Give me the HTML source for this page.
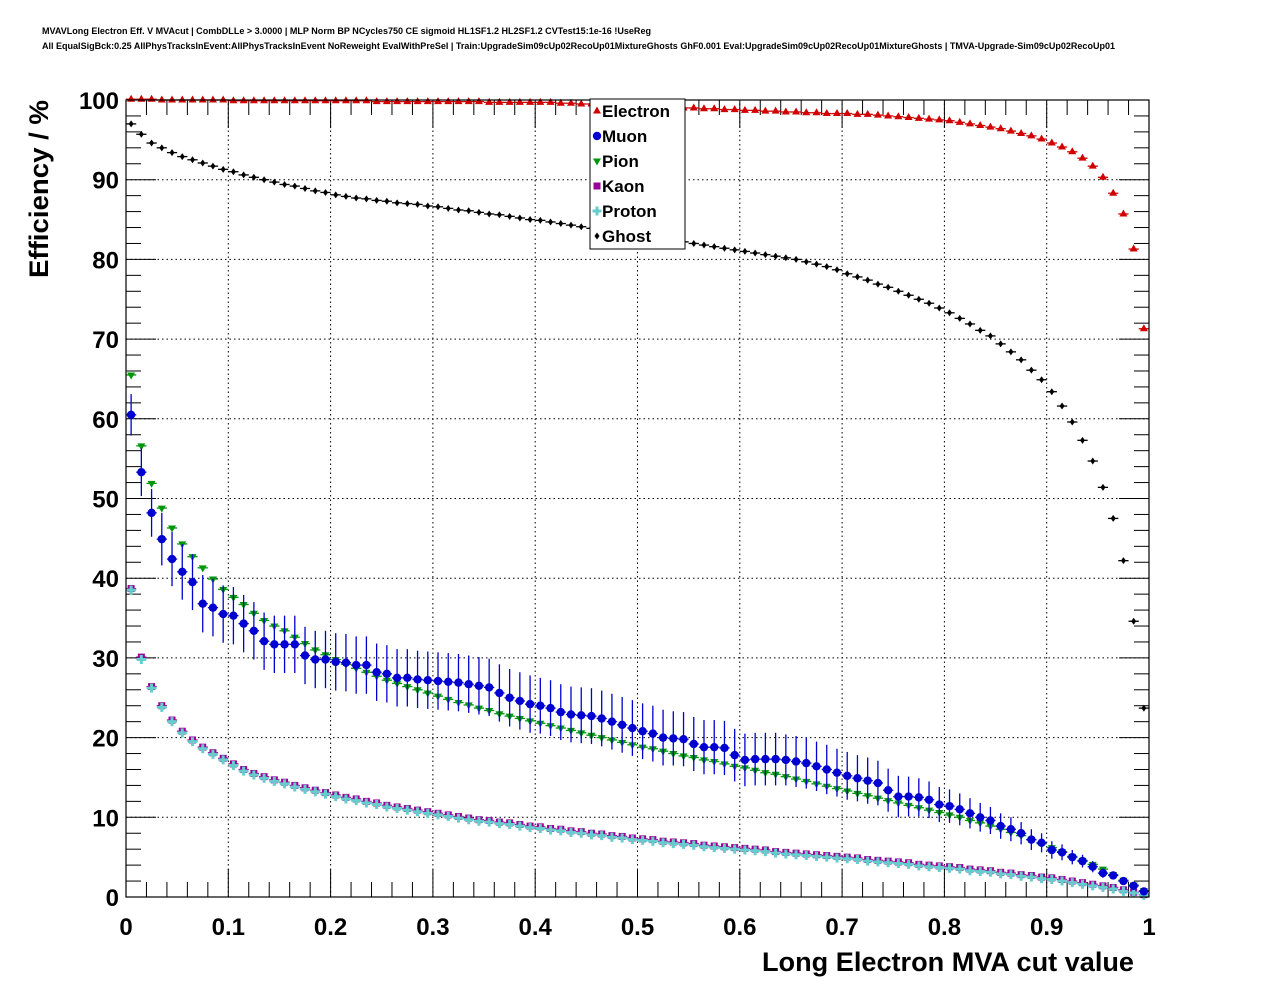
<!DOCTYPE html>
<html><head><meta charset="utf-8">
<style>
html,body{margin:0;padding:0;background:#fff;}
svg{display:block;font-family:"Liberation Sans",Arial,sans-serif;}
</style></head>
<body>
<svg id="chart" width="1276" height="996" viewBox="0 0 1276 996" xmlns="http://www.w3.org/2000/svg">
<text x="42" y="34" font-size="9" font-weight="bold" textLength="609" lengthAdjust="spacingAndGlyphs">MVAVLong Electron Eff. V MVAcut | CombDLLe &gt; 3.0000 | MLP Norm BP NCycles750 CE sigmoid HL1SF1.2 HL2SF1.2 CVTest15:1e-16 !UseReg</text>
<text x="42" y="49" font-size="9" font-weight="bold" textLength="1073" lengthAdjust="spacingAndGlyphs">All EqualSigBck:0.25 AllPhysTracksInEvent:AllPhysTracksInEvent NoReweight EvalWithPreSel | Train:UpgradeSim09cUp02RecoUp01MixtureGhosts GhF0.001 Eval:UpgradeSim09cUp02RecoUp01MixtureGhosts | TMVA-Upgrade-Sim09cUp02RecoUp01</text>
<g id="grid"></g>
<g id="axes"></g>
<g id="marks"></g>
<rect x="126" y="100" width="1023" height="797" fill="none" stroke="#000" stroke-width="1.2"/>
<text transform="translate(48,189) rotate(-90)" text-anchor="middle" font-size="27" font-weight="bold" textLength="178" lengthAdjust="spacingAndGlyphs">Efficiency / %</text>
<text x="762" y="971" font-size="27" font-weight="bold" textLength="372" lengthAdjust="spacingAndGlyphs">Long Electron MVA cut value</text>
<g id="legend">
<rect x="590" y="99" width="95" height="150" fill="#fff" stroke="#000" stroke-width="1"/>
</g>
</svg>
<script>
const electron=[100.1,100.1,100.1,100.0,100.0,100.0,100.0,100.0,100.0,100.0,
99.9,99.9,99.9,99.9,99.9,99.9,99.9,99.9,99.9,99.9,
99.9,99.9,99.9,99.9,99.8,99.8,99.8,99.8,99.8,99.8,
99.8,99.8,99.8,99.8,99.8,99.7,99.7,99.7,99.7,99.7,
99.7,99.7,99.6,99.6,99.5,99.5,99.4,99.4,99.3,99.3,
99.2,99.2,99.1,99.1,99.0,99.0,98.9,98.9,98.8,98.8,
98.7,98.7,98.6,98.6,98.5,98.5,98.4,98.4,98.3,98.3,
98.3,98.2,98.2,98.1,98.0,97.9,97.8,97.7,97.6,97.5,
97.4,97.2,97.0,96.8,96.6,96.4,96.1,95.8,95.5,95.1,
94.6,94.1,93.5,92.7,91.7,90.3,88.3,85.7,81.3,71.3];
const muon=[60.5,53.3,48.2,44.9,42.4,40.8,39.5,36.8,36.3,35.5,
35.3,34.3,33.4,32.1,31.7,31.7,31.7,30.3,29.8,29.8,
29.5,29.4,29.1,29.1,28.2,28.0,27.5,27.5,27.3,27.2,
27.1,27.0,26.9,26.7,26.5,26.3,25.6,25.0,24.6,24.2,
24.0,23.7,23.2,22.9,22.8,22.7,22.4,22.0,21.6,21.2,
20.8,20.5,20.0,19.9,19.8,19.2,18.8,18.8,18.7,17.8,
17.2,17.3,17.3,17.3,17.2,17.0,16.8,16.4,16.0,15.6,
15.2,14.9,14.6,14.3,13.4,12.6,12.6,12.5,12.2,11.6,
11.4,11.0,10.5,10.0,9.6,8.9,8.5,8.0,7.2,6.8,
5.9,5.6,5.0,4.5,3.8,3.0,2.7,2.0,1.4,0.7];
const muonErr=[2.6,3.0,3.0,3.3,3.4,3.5,3.5,3.6,3.6,3.6,
3.6,3.6,3.6,3.6,3.6,3.6,3.6,3.6,3.6,3.6,
3.6,3.6,3.6,3.6,3.6,3.6,3.6,3.6,3.6,3.6,
3.6,3.6,3.6,3.6,3.6,3.6,3.6,3.6,3.6,3.6,
3.5,3.5,3.5,3.5,3.5,3.5,3.5,3.5,3.5,3.5,
3.5,3.5,3.5,3.4,3.4,3.4,3.4,3.4,3.4,3.3,
3.3,3.3,3.3,3.3,3.2,3.2,3.2,3.1,3.1,3.0,
3.0,2.9,2.9,2.8,2.7,2.6,2.5,2.4,2.3,2.2,
2.1,2.0,1.9,1.8,1.7,1.6,1.5,1.4,1.3,1.2,
1.1,1.0,0.9,0.8,0.7,0.6,0.5,0.4,0.3,0.2];
const pion=[65.5,56.6,51.9,48.8,46.3,44.3,42.7,41.3,39.9,38.6,
37.6,36.7,35.6,34.7,34.0,33.4,32.6,31.8,31.0,30.4,
29.8,29.2,28.7,28.2,27.7,27.2,26.8,26.4,26.0,25.6,
25.2,24.8,24.4,24.1,23.7,23.4,23.0,22.7,22.4,22.1,
21.8,21.5,21.2,20.9,20.6,20.3,20.0,19.7,19.4,19.1,
18.8,18.6,18.3,18.0,17.7,17.5,17.2,17.0,16.7,16.4,
16.2,15.9,15.6,15.4,15.1,14.8,14.5,14.2,13.9,13.6,
13.3,13.0,12.7,12.4,12.1,11.8,11.5,11.2,10.9,10.6,
10.3,10.0,9.6,9.3,8.9,8.5,8.1,7.7,7.2,6.7,
6.2,5.7,5.1,4.6,4.1,3.5,2.8,2.1,1.5,0.8];
const kaon=[38.7,30.1,26.4,24.0,22.2,20.8,19.7,18.8,18.1,17.4,
16.7,16.0,15.5,15.1,14.7,14.4,14.0,13.7,13.4,13.1,
12.8,12.5,12.3,12.0,11.8,11.5,11.3,11.1,10.9,10.7,
10.5,10.3,10.1,9.9,9.7,9.6,9.4,9.3,9.1,8.9,
8.8,8.6,8.5,8.3,8.2,8.0,7.9,7.7,7.6,7.4,
7.3,7.2,7.0,6.9,6.8,6.7,6.5,6.4,6.3,6.2,
6.1,6.0,5.9,5.7,5.6,5.5,5.4,5.3,5.2,5.1,
5.0,4.9,4.7,4.6,4.5,4.4,4.3,4.1,4.0,3.9,
3.8,3.7,3.5,3.4,3.3,3.1,3.0,2.8,2.7,2.5,
2.4,2.2,2.0,1.8,1.6,1.4,1.2,0.9,0.6,0.3];
const proton=[38.5,29.8,26.2,23.8,22.0,20.6,19.5,18.6,17.9,17.2,
16.5,15.8,15.3,14.9,14.5,14.2,13.8,13.5,13.2,12.9,
12.6,12.3,12.1,11.8,11.6,11.3,11.1,10.9,10.7,10.5,
10.3,10.1,9.9,9.7,9.5,9.4,9.2,9.1,8.9,8.7,
8.6,8.4,8.3,8.1,8.0,7.8,7.7,7.5,7.4,7.2,
7.1,7.0,6.8,6.7,6.6,6.5,6.3,6.2,6.1,6.0,
5.9,5.8,5.7,5.5,5.4,5.3,5.2,5.1,5.0,4.9,
4.8,4.7,4.5,4.4,4.3,4.2,4.1,3.9,3.8,3.7,
3.6,3.5,3.3,3.2,3.1,2.9,2.8,2.6,2.5,2.3,
2.2,2.0,1.8,1.6,1.4,1.2,1.0,0.7,0.5,0.2];
const ghost=[97.0,95.7,94.6,94.0,93.4,92.9,92.5,92.1,91.7,91.3,
91.0,90.6,90.3,90.0,89.7,89.4,89.2,88.9,88.6,88.4,
88.1,87.9,87.7,87.6,87.4,87.3,87.1,87.0,86.9,86.7,
86.6,86.4,86.2,86.1,85.9,85.7,85.6,85.4,85.2,85.0,
84.9,84.7,84.5,84.3,84.1,83.9,83.7,83.5,83.3,83.1,
83.0,82.8,82.6,82.4,82.2,82.0,81.8,81.6,81.4,81.2,
81.0,80.8,80.6,80.4,80.2,80.0,79.7,79.4,79.1,78.7,
78.2,77.8,77.4,76.9,76.5,76.0,75.5,75.0,74.5,73.9,
73.3,72.6,71.9,71.1,70.4,69.4,68.4,67.4,66.1,64.9,
63.4,61.6,59.6,57.3,54.7,51.4,47.5,42.2,34.6,23.7];
const xTickLabels=["0","0.1","0.2","0.3","0.4","0.5","0.6","0.7","0.8","0.9","1"];
const yTickLabels=["0","10","20","30","40","50","60","70","80","90","100"];
const legendLabels=["Electron","Muon","Pion","Kaon","Proton","Ghost"];

const NS="http://www.w3.org/2000/svg";
const X0=126,X1=1149,Y0=897,Y1=100;
const xs=v=>X0+v*(X1-X0);
const ys=v=>Y0-v/100*(Y0-Y1);
function mk(tag,attrs,parent){const e=document.createElementNS(NS,tag);for(const k in attrs)e.setAttribute(k,attrs[k]);parent.appendChild(e);return e;}
const grid=document.getElementById('grid'),axes=document.getElementById('axes'),marks=document.getElementById('marks'),legend=document.getElementById('legend');

for(let i=0;i<=50;i++){
  const v=i/50,x=xs(v),major=i%5===0,len=major?28:15;
  let t=mk('line',{x1:x,x2:x,y1:Y0,y2:Y0-len,stroke:'#000','stroke-width':1},axes);
  
  
  t=mk('line',{x1:x,x2:x,y1:Y1,y2:Y1+len,stroke:'#000','stroke-width':1},axes);
  
  
}
for(let i=0;i<=50;i++){
  const v=i*2,y=ys(v),major=i%5===0,len=major?30:15;
  let t=mk('line',{x1:X0,x2:X0+len,y1:y,y2:y,stroke:'#000','stroke-width':1},axes);
  
  
  t=mk('line',{x1:X1,x2:X1-len,y1:y,y2:y,stroke:'#000','stroke-width':1},axes);
  
  
}
xTickLabels.forEach((s,i)=>{
  const v=parseFloat(s);
  if(i>0&&i<xTickLabels.length-1){
    const g=mk('line',{x1:xs(v),x2:xs(v),y1:Y0,y2:Y1,stroke:'#000','stroke-width':1,'stroke-dasharray':'1.5,3'},grid);
    
    
  }
  const t=mk('text',{x:xs(v),y:935,'text-anchor':'middle','font-size':24,'font-weight':'bold'},axes);
  t.textContent=s;
  
  
});
yTickLabels.forEach((s,i)=>{
  const v=parseFloat(s);
  if(i>0&&i<yTickLabels.length-1){
    const g=mk('line',{x1:X0,x2:X1,y1:ys(v),y2:ys(v),stroke:'#000','stroke-width':1,'stroke-dasharray':'1.5,3'},grid);
    
    
  }
  const t=mk('text',{x:119,y:ys(v)+9,'text-anchor':'end','font-size':24,'font-weight':'bold'},axes);
  t.textContent=s;
  
  
});

function marker(type,cx,cy,color,parent){
  let e;
  if(type==='tri') e=mk('polygon',{points:`${cx},${cy-4.5} ${cx-4},${cy+2.5} ${cx+4},${cy+2.5}`,fill:color},parent);
  else if(type==='tridown') e=mk('polygon',{points:`${cx},${cy+4.5} ${cx-4},${cy-2.5} ${cx+4},${cy-2.5}`,fill:color},parent);
  else if(type==='circle') e=mk('circle',{cx:cx,cy:cy,r:4.2,fill:color},parent);
  else if(type==='square') e=mk('rect',{x:cx-3.5,y:cy-3.5,width:7,height:7,fill:color},parent);
  else if(type==='cross') e=mk('path',{d:`M${cx-1.5},${cy-4.5}h3v3h3v3h-3v3h-3v-3h-3v-3h3z`,fill:color},parent);
  else e=mk('polygon',{points:`${cx},${cy-3.5} ${cx+2.5},${cy} ${cx},${cy+3.5} ${cx-2.5},${cy}`,fill:color},parent);
  return e;
}
const seriesDefs=[
  {name:'electron',vals:electron,type:'tri',color:'#d00000'},
  {name:'muon',vals:muon,type:'circle',color:'#0000d0',err:muonErr},
  {name:'pion',vals:pion,type:'tridown',color:'#00960a'},
  {name:'kaon',vals:kaon,type:'square',color:'#990099'},
  {name:'proton',vals:proton,type:'cross',color:'#66cccc'},
  {name:'ghost',vals:ghost,type:'diamond',color:'#000'}
];
const order=[2,3,4,1,0,5];
order.forEach(si=>{
  const s=seriesDefs[si];
  const g=mk('g',{},marks);
  
  
  s.vals.forEach((v,i)=>{
    const xc=(i+0.5)/100,cx=xs(xc),cy=ys(v);
    const h=mk('line',{x1:xs(i/100),x2:xs((i+1)/100),y1:cy,y2:cy,stroke:s.color,'stroke-width':1.3},g);
    
    
    if(s.err){
      const ve=mk('line',{x1:cx,x2:cx,y1:ys(v+s.err[i]),y2:ys(v-s.err[i]),stroke:s.color,'stroke-width':1.3},g);
      
      
    }
    const m=marker(s.type,cx,cy,s.color,g);
    
    
  });
});
legendLabels.forEach((lab,i)=>{
  const s=seriesDefs[i],y=111+i*25;
  const m=marker(s.type,597,y,s.color,legend);
  
  
  const t=mk('text',{x:602,y:y+6,'font-size':17,'font-weight':'bold'},legend);
  t.textContent=lab;
  
  
});
</script>
</body></html>
